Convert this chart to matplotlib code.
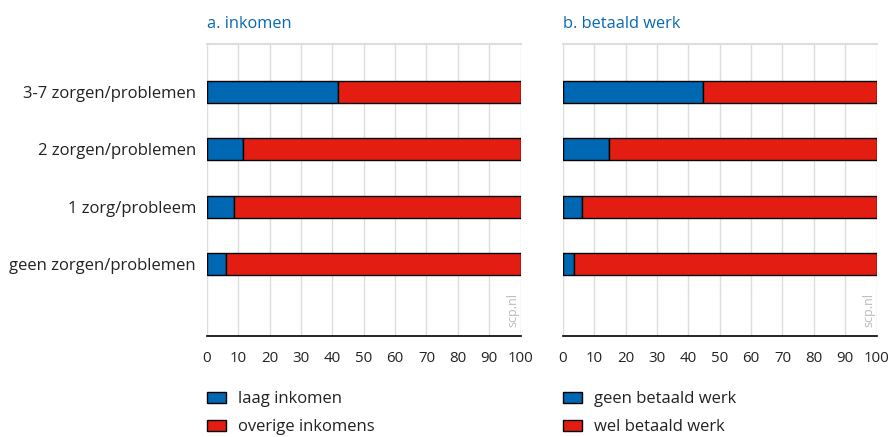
import matplotlib
matplotlib.use("Agg")
import matplotlib.pyplot as plt
from matplotlib.patches import Patch

categories = ["geen zorgen/problemen", "1 zorg/probleem", "2 zorgen/problemen", "3-7 zorgen/problemen"]
laag_inkomen = [6.1, 8.7, 11.6, 41.8]
geen_betaald_werk = [3.6, 6.1, 14.7, 44.5]
xticks = [0, 10, 20, 30, 40, 50, 60, 70, 80, 90, 100]

panels = [
    ("a. inkomen", laag_inkomen, "laag inkomen", "overige inkomens"),
    ("b. betaald werk", geen_betaald_werk, "geen betaald werk", "wel betaald werk"),
]

BLUE = "#0067B2"
RED = "#E31D12"
TITLE = "#0868B4"

plt.rcParams['font.family'] = ['Open Sans', 'DejaVu Sans']

fig = plt.figure(figsize=(8.89, 4.37), dpi=100)
lefts = [207/889, 563/889]
width = 313.5/889
bottom = 101/437
height = 292/437

for i, (title, vals, lab1, lab2) in enumerate(panels):
    ax = fig.add_axes([lefts[i], bottom, width, height])
    rest = [100 - v for v in vals]
    y = list(range(len(categories)))
    ax.barh(y, vals, height=0.38, color=BLUE, edgecolor="black", linewidth=1, zorder=3, label=lab1)
    ax.barh(y, rest, left=vals, height=0.38, color=RED, edgecolor="black", linewidth=1, zorder=3, label=lab2)
    ax.set_xlim(0, 100)
    ax.set_ylim(-1.25, 3.835)
    ax.set_xticks(xticks)
    ax.set_xticklabels([str(t) for t in xticks], fontsize=10.8, color="#222222")
    ax.set_yticks(y)
    if i == 0:
        ax.set_yticklabels(categories, fontsize=12, color="#222222")
    else:
        ax.set_yticklabels([])
    ax.tick_params(axis="both", length=0)
    ax.tick_params(axis="y", pad=8)
    ax.tick_params(axis="x", pad=11)
    for t in xticks:
        ax.axvline(t, color="#dddddd", linewidth=1, zorder=1)
    ax.axhline(3.835, color="#dddddd", linewidth=1.5, zorder=1, clip_on=False)
    for s in ["top", "left", "right"]:
        ax.spines[s].set_visible(False)
    ax.spines["bottom"].set_color("black")
    ax.spines["bottom"].set_linewidth(1.2)
    ax.spines["bottom"].set_zorder(4)
    ax.text(0, 1 + 16/292, title, transform=ax.transAxes, fontsize=11.8, color=TITLE,
            ha="left", va="baseline")
    ax.text(0.975, 0.03, "scp.nl", transform=ax.transAxes, fontsize=9, color="#bbbbbb",
            rotation=90, ha="center", va="bottom")
    handles = [Patch(facecolor=BLUE, edgecolor="black", label=lab1),
               Patch(facecolor=RED, edgecolor="black", label=lab2)]
    fig.legend(handles=handles, loc="upper left", bbox_to_anchor=(lefts[i] - 0.009, 0.124),
               frameon=False, fontsize=12, handlelength=1.14, handleheight=0.66,
               handletextpad=0.72, labelspacing=0.72, borderpad=0, labelcolor="#222222")

fig.savefig("out.png", dpi=100)
